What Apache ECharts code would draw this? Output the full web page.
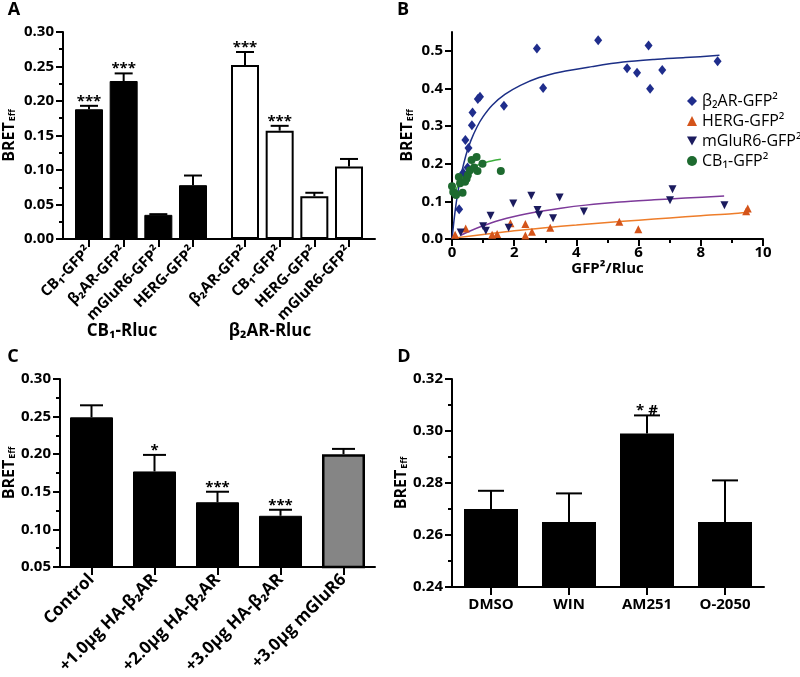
<!DOCTYPE html>
<html>
<head>
<meta charset="utf-8">
<script src="https://cdn.jsdelivr.net/npm/echarts@6/dist/echarts.min.js"></script>
<style>
  html, body { margin: 0; padding: 0; background: #fff; }
  #chart { width: 800px; height: 677px; }
</style>
</head>
<body>
<div id="chart"></div>
<script>
// A: BRET efficiency with CB1-Rluc and b2AR-Rluc donors
const catsA1 = ['CB₁-GFP²', 'β₂AR-GFP²', 'mGluR6-GFP²', 'HERG-GFP²']
const valsA1 = [0.188, 0.229, 0.035, 0.078]
const errA1 = [0.005, 0.011, 0.001, 0.014]
const sigA1 = ['***', '***', '', '']
const catsA2 = ['β₂AR-GFP²', 'CB₁-GFP²', 'HERG-GFP²', 'mGluR6-GFP²']
const valsA2 = [0.252, 0.157, 0.062, 0.105]
const errA2 = [0.019, 0.007, 0.005, 0.011]
const sigA2 = ['***', '***', '', '']
const groupsA = ['CB₁-Rluc', 'β₂AR-Rluc']

// B: saturation curves (points and fitted lines)
const b2arX = [0.23, 0.36, 0.50, 0.53, 0.43, 0.64, 0.66, 0.83, 0.90, 1.67, 2.93, 2.73, 4.70, 5.63, 5.95, 6.32, 6.37, 6.76, 8.54]
const b2arY = [0.079, 0.176, 0.190, 0.242, 0.263, 0.302, 0.336, 0.372, 0.378, 0.354, 0.401, 0.506, 0.528, 0.454, 0.442, 0.514, 0.399, 0.449, 0.472]
const hergX = [0.10, 0.44, 1.29, 1.45, 1.88, 2.36, 2.36, 2.57, 3.16, 5.38, 5.99, 9.46, 9.51]
const hergY = [0.011, 0.028, 0.011, 0.013, 0.042, 0.040, 0.009, 0.019, 0.030, 0.046, 0.026, 0.074, 0.081]
const mglurX = [0.28, 1.00, 1.09, 1.24, 1.82, 1.97, 2.55, 2.75, 2.80, 3.25, 3.46, 4.24, 7.01, 7.09, 8.76]
const mglurY = [0.017, 0.034, 0.022, 0.062, 0.030, 0.094, 0.115, 0.077, 0.064, 0.055, 0.110, 0.073, 0.103, 0.132, 0.090]
const cb1X = [0.00, 0.04, 0.10, 0.13, 0.22, 0.26, 0.34, 0.42, 0.47, 0.51, 0.58, 0.63, 0.71, 0.79, 0.82, 0.98, 1.57]
const cb1Y = [0.140, 0.125, 0.121, 0.117, 0.165, 0.148, 0.123, 0.152, 0.160, 0.170, 0.183, 0.210, 0.190, 0.218, 0.181, 0.200, 0.181]

const b2arFitX = [0, 0.1, 0.2, 0.3, 0.45, 0.6, 0.8, 1.0, 1.3, 1.7, 2.2, 2.8, 3.5, 4.5, 5.5, 6.5, 7.5, 8.6]
const b2arFitY = [0.0, 0.074, 0.130, 0.173, 0.223, 0.260, 0.297, 0.325, 0.356, 0.384, 0.408, 0.429, 0.444, 0.458, 0.470, 0.477, 0.482, 0.488]
const cb1FitX = [0.05, 0.15, 0.3, 0.5, 0.75, 1.0, 1.3, 1.57]
const cb1FitY = [0.110, 0.135, 0.158, 0.178, 0.193, 0.202, 0.208, 0.212]
const mglurFitX = [0.28, 0.6, 1.0, 1.5, 2.0, 2.8, 3.5, 4.3, 5.4, 6.5, 7.5, 8.75]
const mglurFitY = [0.010, 0.022, 0.035, 0.049, 0.060, 0.073, 0.082, 0.090, 0.098, 0.104, 0.109, 0.114]
const hergFitX = [0.1, 1, 2, 3, 4, 5, 6, 7, 8, 9, 9.5]
const hergFitY = [0.003, 0.012, 0.022, 0.030, 0.037, 0.044, 0.050, 0.056, 0.062, 0.067, 0.071]

// C: competition with HA-b2AR
const catsC = ['Control', '+1.0μg HA-β₂AR', '+2.0μg HA-β₂AR', '+3.0μg HA-β₂AR', '+3.0μg mGluR6']
const valsC = [0.249, 0.177, 0.136, 0.118, 0.200]
const errC = [0.016, 0.022, 0.014, 0.008, 0.007]
const sigC = ['', '*', '***', '***', '']

// D: ligand treatment
const catsD = ['DMSO', 'WIN', 'AM251', 'O-2050']
const valsD = [0.270, 0.265, 0.299, 0.265]
const errD = [0.007, 0.011, 0.007, 0.016]
const sigD = ['', '', '* #', '']

const FONT = '"Open Sans", "DejaVu Sans", sans-serif'
const chart = echarts.init(document.getElementById('chart'))

// panel A uses half-width slots so the two donor groups get a gap
const slotsA1 = [1, 3, 5, 7]
const slotsA2 = [10, 12, 14, 16]
const slotNamesA = new Array(18).fill('')
const barDataA = new Array(18).fill(null)
const errDataA = []
const sigA = []
slotsA1.forEach((s, i) => {
  slotNamesA[s] = catsA1[i]
  barDataA[s] = { value: valsA1[i], itemStyle: { color: '#000', borderColor: '#000', borderWidth: 1 } }
  errDataA.push([s, valsA1[i], errA1[i]])
  sigA.push(sigA1[i])
})
slotsA2.forEach((s, i) => {
  slotNamesA[s] = catsA2[i]
  barDataA[s] = { value: valsA2[i], itemStyle: { color: '#fff', borderColor: '#000', borderWidth: 2 } }
  errDataA.push([s, valsA2[i], errA2[i]])
  sigA.push(sigA2[i])
})

const bretName = '{b|BRET}{s|Eff}'
const bretRich = {
  b: { fontSize: 16, fontWeight: 'bold', fontFamily: FONT, color: '#000' },
  s: { fontSize: 9, fontWeight: 'bold', fontFamily: FONT, color: '#000', verticalAlign: 'bottom', padding: [0, 0, 0, 1] }
}
const axisLineStyle = { show: true, onZero: false, lineStyle: { color: '#000', width: 2 } }
const labelStyle = { fontSize: 15, fontWeight: 'bold', fontFamily: FONT, color: '#000' }

function valueAxis(gridIndex, min, max, interval, digits, nameGap, minor) {
  return {
    type: 'value', gridIndex, min, max, interval,
    name: bretName, nameLocation: 'middle', nameGap, nameRotate: 90,
    nameTextStyle: { rich: bretRich },
    axisLine: axisLineStyle,
    axisTick: { show: true, length: 7, lineStyle: { width: 2, color: '#000' } },
    minorTick: { show: minor, splitNumber: 2, length: 4, lineStyle: { width: 2, color: '#000' } },
    splitLine: { show: false },
    axisLabel: Object.assign({ margin: 9, showMaxLabel: minor, formatter: v => v.toFixed(digits) }, labelStyle)
  }
}

function catAxis(gridIndex, data, rotate, size, tickFilter) {
  return {
    type: 'category', gridIndex, data,
    axisLine: axisLineStyle,
    axisTick: { show: true, alignWithLabel: true, length: 8, interval: tickFilter || 0, lineStyle: { width: 2, color: '#000' } },
    axisLabel: Object.assign({}, labelStyle, { interval: 0, rotate, margin: 10, fontSize: size }),
    splitLine: { show: false }
  }
}

function errSeries(axisIndex, data, sig, capW) {
  return {
    type: 'custom', xAxisIndex: axisIndex, yAxisIndex: axisIndex, z: 5,
    data, encode: { x: 0, y: 1 },
    renderItem: (params, api) => {
      const pos = api.value(0)
      const v = api.value(1)
      const e = api.value(2)
      const p0 = api.coord([pos, v])
      const p1 = api.coord([pos, v + e])
      const children = [
        { type: 'line', shape: { x1: p0[0], y1: p0[1], x2: p1[0], y2: p1[1] }, style: { stroke: '#000', lineWidth: 2 } },
        { type: 'line', shape: { x1: p1[0] - capW / 2, y1: p1[1], x2: p1[0] + capW / 2, y2: p1[1] }, style: { stroke: '#000', lineWidth: 2 } }
      ]
      const s = sig[params.dataIndex]
      if (s) {
        children.push({
          type: 'text', x: p1[0], y: p1[1] + 3,
          style: { text: s, fill: '#000', font: 'bold 15px ' + FONT, align: 'center', verticalAlign: 'bottom', textAlign: 'center', textVerticalAlign: 'bottom' }
        })
      }
      return { type: 'group', children }
    }
  }
}

function pairs(xs, ys) {
  return xs.map((x, i) => [x, ys[i]])
}

function fitLine(name, xs, ys, color) {
  return {
    type: 'line', name, xAxisIndex: 1, yAxisIndex: 1, data: pairs(xs, ys),
    smooth: 0.3, showSymbol: false, z: 3,
    lineStyle: { color, width: 1.5 }
  }
}

function scatter(name, xs, ys, symbol, color, size, rotate) {
  return {
    type: 'scatter', name, xAxisIndex: 1, yAxisIndex: 1, data: pairs(xs, ys),
    symbol, symbolSize: size, symbolRotate: rotate || 0, z: 4,
    itemStyle: { color, opacity: 1 }
  }
}

function panelText(text, x, y, size) {
  return {
    type: 'text', x, y,
    style: { text, fill: '#000', font: 'bold ' + size + 'px ' + FONT, textAlign: 'center', textVerticalAlign: 'middle', align: 'center', verticalAlign: 'middle' }
  }
}

const option = {
  animation: false,
  backgroundColor: '#fff',
  grid: [
    { left: 62, top: 32, width: 313, height: 207 },
    { left: 452, top: 32, width: 311, height: 207 },
    { left: 59, top: 379, width: 316, height: 208 },
    { left: 452, top: 379, width: 312, height: 208 }
  ],
  xAxis: [
    catAxis(0, slotNamesA, 45, 15, (i, v) => v !== ''),
    {
      type: 'value', gridIndex: 1, min: 0, max: 10, interval: 2,
      name: 'GFP²/Rluc', nameLocation: 'middle', nameGap: 21,
      nameTextStyle: labelStyle,
      axisLine: axisLineStyle,
      axisTick: { show: true, length: 7, lineStyle: { width: 2, color: '#000' } },
      minorTick: { show: true, splitNumber: 2, length: 4, lineStyle: { width: 2, color: '#000' } },
      splitLine: { show: false },
      axisLabel: Object.assign({ margin: 6 }, labelStyle)
    },
    catAxis(2, catsC, 45, 17),
    catAxis(3, catsD, 0, 15)
  ],
  yAxis: [
    valueAxis(0, 0, 0.30, 0.05, 2, 46, true),
    valueAxis(1, 0, 0.55, 0.1, 1, 37, false),
    valueAxis(2, 0.05, 0.30, 0.05, 2, 43, true),
    valueAxis(3, 0.24, 0.32, 0.02, 2, 38, true)
  ],
  legend: {
    data: [
      { name: 'β₂AR-GFP²' },
      { name: 'HERG-GFP²' },
      { name: 'mGluR6-GFP²', icon: 'path://M0,0 L10,0 L5,9 Z' },
      { name: 'CB₁-GFP²' }
    ],
    orient: 'vertical', left: 682, top: 88, itemGap: 4, itemWidth: 10, itemHeight: 10,
    textStyle: { fontSize: 16, fontFamily: FONT, color: '#000' }
  },
  series: [
    // A
    { type: 'bar', xAxisIndex: 0, yAxisIndex: 0, data: barDataA, barWidth: 28 },
    errSeries(0, errDataA, sigA, 18),
    // B
    fitLine('β₂AR fit', b2arFitX, b2arFitY, '#1c2f86'),
    fitLine('CB₁ fit', cb1FitX, cb1FitY, '#3cae3c'),
    fitLine('mGluR6 fit', mglurFitX, mglurFitY, '#7d3a9a'),
    fitLine('HERG fit', hergFitX, hergFitY, '#ee7d2a'),
    scatter('β₂AR-GFP²', b2arX, b2arY, 'diamond', '#1f2d8c', [8, 10]),
    scatter('HERG-GFP²', hergX, hergY, 'triangle', '#d4541a', 8),
    scatter('mGluR6-GFP²', mglurX, mglurY, 'triangle', '#1b1b5e', 8, 180),
    scatter('CB₁-GFP²', cb1X, cb1Y, 'circle', '#1d6a2f', 8),
    // C
    {
      type: 'bar', xAxisIndex: 2, yAxisIndex: 2, barWidth: 43,
      data: valsC.map((v, i) => ({
        value: v,
        itemStyle: i === valsC.length - 1
          ? { color: '#858585', borderColor: '#000', borderWidth: 2.5 }
          : { color: '#000', borderColor: '#000', borderWidth: 1 }
      }))
    },
    errSeries(2, valsC.map((v, i) => [i, v, errC[i]]), sigC, 23),
    // D
    { type: 'bar', xAxisIndex: 3, yAxisIndex: 3, barWidth: 54, data: valsD, itemStyle: { color: '#000' } },
    errSeries(3, valsD.map((v, i) => [i, v, errD[i]]), sigD, 26)
  ],
  graphic: [
    panelText('A', 14, 10, 18),
    panelText('B', 403, 10, 18),
    panelText('C', 13, 357, 18),
    panelText('D', 404, 357, 18),
    panelText(groupsA[0], 122, 331, 17),
    panelText(groupsA[1], 270, 331, 17)
  ]
}

chart.setOption(option)
</script>
</body>
</html>
